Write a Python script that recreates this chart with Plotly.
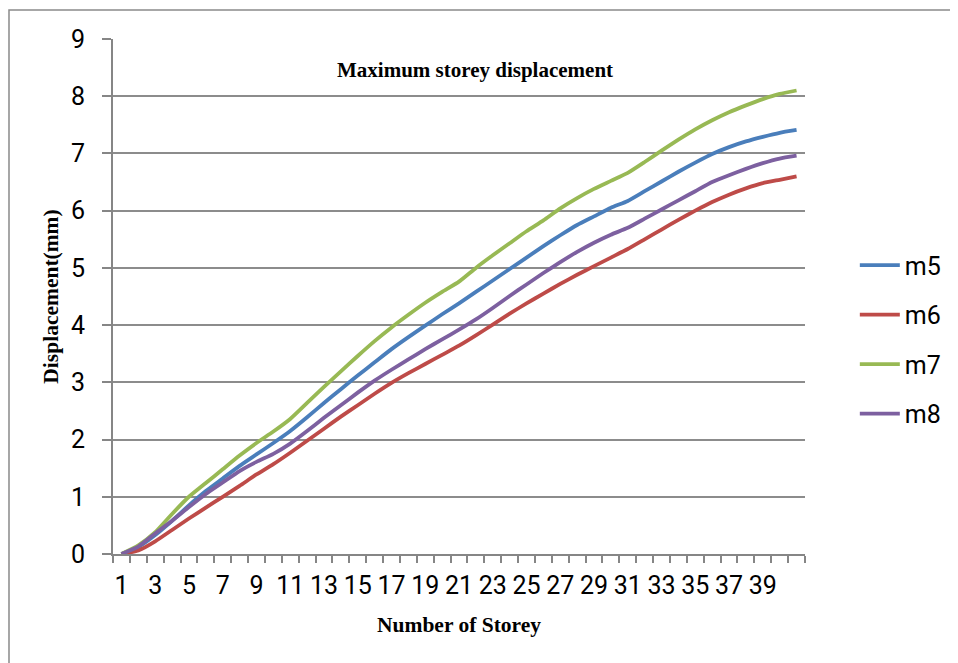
import plotly.graph_objects as go

storeys = list(range(1, 42))
tick_labels = [str(i) for i in range(1, 40, 2)]

m5 = [0, 0.12, 0.33, 0.58, 0.85, 1.10, 1.32, 1.54, 1.74, 1.94,
      2.15, 2.39, 2.64, 2.88, 3.12, 3.35, 3.58, 3.79, 3.99, 4.19,
      4.38, 4.58, 4.78, 4.98, 5.18, 5.38, 5.57, 5.75, 5.90, 6.05,
      6.17, 6.34, 6.51, 6.68, 6.84, 6.99, 7.11, 7.21, 7.29, 7.36, 7.41]
m6 = [0, 0.06, 0.22, 0.42, 0.62, 0.81, 1.00, 1.19, 1.39, 1.57,
      1.77, 1.98, 2.19, 2.40, 2.60, 2.80, 2.99, 3.16, 3.32, 3.48,
      3.64, 3.82, 4.01, 4.20, 4.38, 4.55, 4.72, 4.88, 5.03, 5.18,
      5.33, 5.50, 5.67, 5.84, 6.00, 6.15, 6.28, 6.39, 6.48, 6.54, 6.60]
m7 = [0, 0.15, 0.38, 0.70, 1.00, 1.24, 1.48, 1.72, 1.94, 2.14,
      2.36, 2.64, 2.92, 3.19, 3.46, 3.72, 3.96, 4.18, 4.39, 4.58,
      4.76, 5.00, 5.22, 5.43, 5.64, 5.83, 6.04, 6.22, 6.38, 6.52,
      6.66, 6.85, 7.05, 7.24, 7.42, 7.58, 7.72, 7.84, 7.95, 8.04, 8.10]
m8 = [0, 0.13, 0.36, 0.58, 0.82, 1.05, 1.25, 1.45, 1.61, 1.75,
      1.93, 2.15, 2.38, 2.60, 2.82, 3.03, 3.22, 3.40, 3.58, 3.75,
      3.92, 4.10, 4.30, 4.51, 4.71, 4.91, 5.10, 5.28, 5.44, 5.58,
      5.70, 5.86, 6.02, 6.18, 6.34, 6.50, 6.62, 6.73, 6.83, 6.91, 6.96]

series = [("m5", m5, "#4A7EBB"), ("m6", m6, "#BE4B48"),
          ("m7", m7, "#98B954"), ("m8", m8, "#7D60A0")]

TICKFONT = dict(family="Roboto, sans-serif", size=25, color="#000000")
SERIF = "Liberation Serif, Times New Roman, serif"

fig = go.Figure()
for name, vals, col in series:
    fig.add_trace(go.Scatter(
        x=storeys, y=vals, name=name, mode="lines", legendgroup=name,
        line=dict(color=col, width=3.8, shape="spline", smoothing=0.5),
    ))

fig.update_layout(
    width=950, height=655,
    margin=dict(l=105, r=153, t=31, b=109),
    paper_bgcolor="white", plot_bgcolor="white",
    showlegend=True,
    legend=dict(x=1.072, y=0.605, xanchor="left", yanchor="top",
                font=TICKFONT, tracegroupgap=14, itemwidth=40,
                bgcolor="rgba(0,0,0,0)"),
    xaxis=dict(
        range=[0.5, 41.5], tickmode="array",
        tickvals=list(range(1, 40, 2)), ticktext=tick_labels,
        ticks="", tickfont=TICKFONT, tickangle=0, showgrid=False, zeroline=False,
        ticklabelstandoff=8,
        showline=True, linecolor="#868686", linewidth=1.5,
        minor=dict(tickmode="linear", tick0=0.5, dtick=1, ticks="outside",
                   ticklen=7, tickcolor="#868686", tickwidth=1.5, showgrid=False),
        title=dict(text="<b>Number of Storey</b>", font=dict(family=SERIF, size=21.5, color="#000"), standoff=18),
    ),
    yaxis=dict(
        range=[0, 9], dtick=1, tick0=0, ticks="outside", ticklen=9,
        tickcolor="#868686", tickwidth=1.5, tickfont=TICKFONT,
        ticklabelstandoff=12,
        showgrid=True, gridcolor="#8c8c8c", gridwidth=1.5,
        zeroline=False, showline=True, linecolor="#868686", linewidth=2,
        title=dict(text="<b>Displacement(mm)</b>", font=dict(family=SERIF, size=21.5, color="#000"), standoff=6),
    ),
    shapes=[dict(type="rect", xref="paper", yref="paper",
                 x0=-0.1503, x1=1.26, y0=-0.2155, y1=1.0563,
                 line=dict(color="#8a8a8a", width=1.5), layer="below")],
    annotations=[dict(text="<b>Maximum storey displacement</b>", xref="paper", yref="paper",
                      x=0.523, y=0.967, showarrow=False,
                      font=dict(family=SERIF, size=21, color="#000"))],
)

fig.write_html("out.html")
